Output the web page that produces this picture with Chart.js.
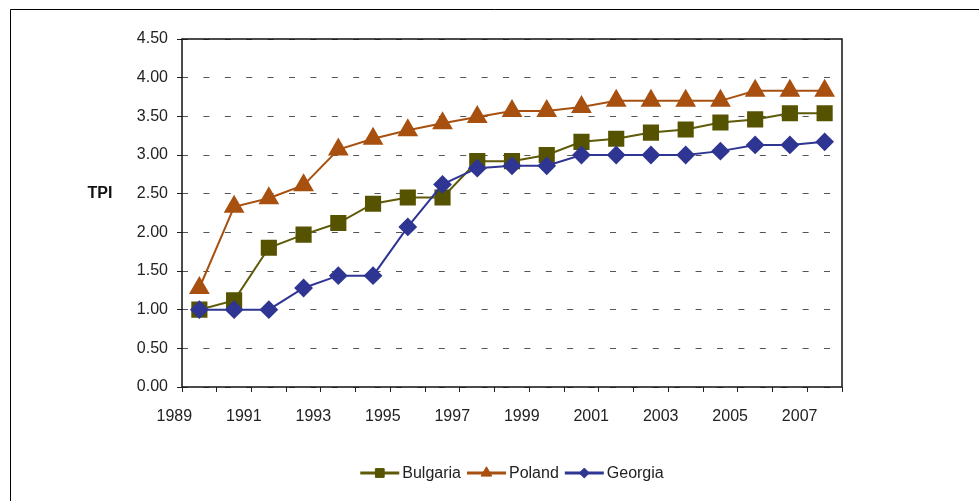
<!DOCTYPE html>
<html>
<head>
<meta charset="utf-8">
<script src="https://cdn.jsdelivr.net/npm/chart.js@4.4.0/dist/chart.umd.min.js"></script>
<style>
  html, body { margin: 0; padding: 0; background: #fff; }
  #wrap { position: relative; width: 979px; height: 501px; overflow: hidden; }
</style>
</head>
<body>
<div id="wrap"><canvas id="mychart" width="979" height="501"></canvas></div>
<script>
var years = ['1989', '1990', '1991', '1992', '1993', '1994', '1995', '1996', '1997', '1998',
             '1999', '2000', '2001', '2002', '2003', '2004', '2005', '2006', '2007'];
var bulgaria = [1.00, 1.12, 1.80, 1.97, 2.12, 2.37, 2.45, 2.45, 2.92, 2.92,
                3.00, 3.17, 3.21, 3.29, 3.33, 3.42, 3.46, 3.54, 3.54];
var poland = [1.28, 2.33, 2.44, 2.61, 3.07, 3.21, 3.32, 3.41, 3.49, 3.57,
              3.57, 3.62, 3.70, 3.70, 3.70, 3.70, 3.83, 3.83, 3.83];
var georgia = [1.00, 1.00, 1.00, 1.28, 1.44, 1.44, 2.07, 2.62, 2.83, 2.86,
               2.86, 3.00, 3.00, 3.00, 3.00, 3.05, 3.13, 3.13, 3.17];
var yTicks = [0, 0.5, 1, 1.5, 2, 2.5, 3, 3.5, 4, 4.5];
var yTitle = 'TPI';

var FONT = '"Liberation Sans", Arial, sans-serif';

// frame, plot border, TPI label and the line+marker legend
var extras = {
    id: 'extras',
    beforeDraw: function(chart) {
        var ctx = chart.ctx;
        ctx.save();
        ctx.strokeStyle = '#000';
        ctx.lineWidth = 1;
        ctx.beginPath();
        ctx.moveTo(10.5, 501);
        ctx.lineTo(10.5, 9.5);
        ctx.lineTo(979, 9.5);
        ctx.stroke();
        ctx.restore();
    },
    beforeDatasetsDraw: function(chart) {
        var ctx = chart.ctx, a = chart.chartArea;
        ctx.save();
        ctx.strokeStyle = '#111';
        ctx.lineWidth = 1.5;
        ctx.strokeRect(a.left, a.top, a.right - a.left, a.bottom - a.top);
        ctx.restore();
    },
    afterDraw: function(chart) {
        var ctx = chart.ctx, a = chart.chartArea;
        var y = chart.scales.y;
        ctx.save();
        ctx.fillStyle = '#111';
        ctx.font = 'bold 16px ' + FONT;
        ctx.textAlign = 'center';
        ctx.textBaseline = 'middle';
        ctx.fillText(yTitle, 100, y.getPixelForValue(2.5));

        // legend
        ctx.font = '16px ' + FONT;
        var lineW = 39, gap = 3, itemGap = 6;
        var ds = chart.data.datasets;
        var total = 0, widths = [];
        for (var i = 0; i < ds.length; i++) {
            var w = ctx.measureText(ds[i].label).width;
            widths.push(w);
            total += lineW + gap + w;
        }
        total += itemGap * (ds.length - 1);
        var x = (a.left + a.right) / 2 - total / 2;
        var ly = 473;
        for (i = 0; i < ds.length; i++) {
            ctx.strokeStyle = ds[i].borderColor;
            ctx.lineWidth = 3;
            ctx.beginPath();
            ctx.moveTo(x, ly);
            ctx.lineTo(x + lineW, ly);
            ctx.stroke();
            ctx.fillStyle = ds[i].pointBackgroundColor;
            ctx.strokeStyle = ds[i].pointBackgroundColor;
            ctx.lineWidth = 1;
            Chart.helpers.drawPoint(ctx, {pointStyle: ds[i].pointStyle, radius: ds[i].pointRadius * 0.62, rotation: 0, borderWidth: 1}, x + lineW / 2, ly);
            ctx.fillStyle = '#222';
            ctx.textAlign = 'left';
            ctx.fillText(ds[i].label, x + lineW + gap, ly + 1);
            x += lineW + gap + widths[i] + itemGap;
        }
        ctx.restore();
    }
};

var canvas = document.getElementById('mychart').getContext('2d');
var myChart = new Chart(canvas, {
    type: 'line',
    data: {
        labels: years,
        datasets: [{
            label: 'Bulgaria',
            data: bulgaria,
            borderColor: '#5e5a08',
            backgroundColor: '#565300',
            pointBackgroundColor: '#565300',
            pointBorderColor: '#565300',
            pointStyle: 'rect',
            pointRadius: 10,
            borderWidth: 2,
            order: 1
        }, {
            label: 'Poland',
            data: poland,
            borderColor: '#a8500f',
            backgroundColor: '#a8500f',
            pointBackgroundColor: '#a8500f',
            pointBorderColor: '#a8500f',
            pointStyle: 'triangle',
            pointRadius: 10,
            borderWidth: 2,
            order: 2
        }, {
            label: 'Georgia',
            data: georgia,
            borderColor: '#2f3592',
            backgroundColor: '#2f3592',
            pointBackgroundColor: '#2f3592',
            pointBorderColor: '#2f3592',
            pointStyle: 'rectRot',
            pointRadius: 8,
            borderWidth: 2,
            order: 0
        }]
    },
    options: {
        responsive: false,
        animation: false,
        devicePixelRatio: 1,
        layout: { padding: { left: 0, top: 39, right: 137, bottom: 74 } },
        elements: { line: { tension: 0 }, point: { borderWidth: 1 } },
        plugins: {
            legend: { display: false },
            tooltip: { enabled: false }
        },
        scales: {
            x: {
                type: 'category',
                offset: true,
                grid: {
                    offset: true,
                    drawOnChartArea: false,
                    drawTicks: true,
                    tickLength: 5,
                    color: '#000',
                    tickColor: '#222',
                    tickWidth: 1
                },
                border: { display: false },
                ticks: {
                    autoSkip: false,
                    maxRotation: 0,
                    padding: 15,
                    labelOffset: -25,
                    color: '#222',
                    font: { family: FONT, size: 16 },
                    callback: function(v, i) { return i % 2 === 0 ? years[i] : ''; }
                },
                afterFit: function(scale) { scale.height = 40; }
            },
            y: {
                min: 0,
                max: 4.5,
                afterBuildTicks: function(scale) {
                    scale.ticks = yTicks.map(function(v) { return {value: v}; });
                },
                grid: {
                    color: '#555',
                    lineWidth: 1,
                    drawTicks: true,
                    tickLength: 5,
                    tickColor: '#222',
                    tickWidth: 1,
                    tickBorderDash: []
                },
                border: { display: false, dash: [6, 15.4], dashOffset: 0 },
                ticks: {
                    padding: 9,
                    color: '#222',
                    font: { family: FONT, size: 16 },
                    callback: function(v) { return Number(v).toFixed(2); }
                },
                afterFit: function(scale) { scale.width = 182; }
            }
        }
    },
    plugins: [extras]
});
</script>
</body>
</html>
